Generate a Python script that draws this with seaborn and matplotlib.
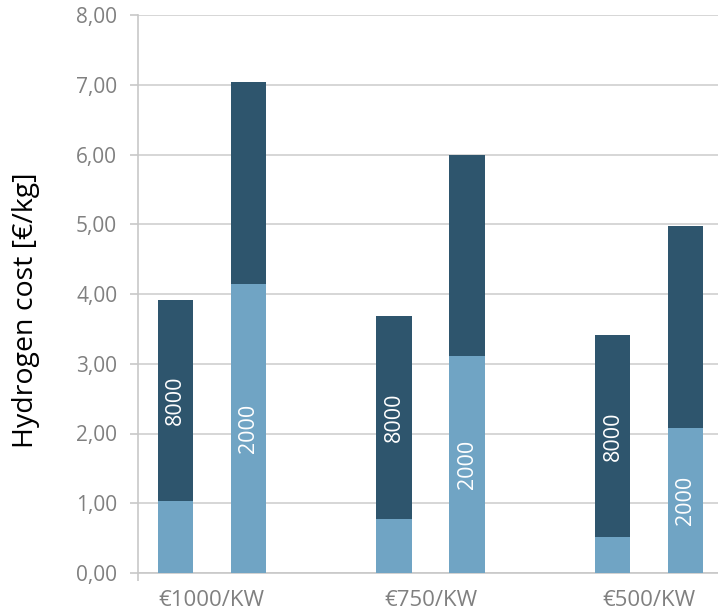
import matplotlib
matplotlib.use("Agg")
import matplotlib.pyplot as plt
import seaborn as sns
import pandas as pd

# valori (€/kg)
groups = ["€1000/KW", "€750/KW", "€500/KW"]
hours = ["8000", "2000"]
totals_8000 = [3.92, 3.68, 3.41]
totals_2000 = [7.04, 6.00, 4.97]
base_8000 = [1.03, 0.78, 0.52]
base_2000 = [4.14, 3.11, 2.08]
yticks = [0, 1, 2, 3, 4, 5, 6, 7, 8]

dark = "#2e556d"
light = "#70a4c4"
grey = "#808080"

df = pd.DataFrame({
    "group": groups * 2,
    "hours": ["8000"] * 3 + ["2000"] * 3,
    "total": totals_8000 + totals_2000,
    "base": base_8000 + base_2000,
})

sns.set_theme(style="white")
plt.rcParams["font.family"] = ["Open Sans", "DejaVu Sans"]

fig = plt.figure(figsize=(7.18, 6.16), dpi=100)
ax = fig.add_axes([138 / 718, 43 / 616, (723 - 138) / 718, (573 - 15) / 616])

sns.barplot(data=df, x="group", y="total", hue="hours", hue_order=hours,
            palette=[dark, dark], width=0.667, gap=0.52, legend=False,
            saturation=1, linewidth=0, ax=ax, zorder=2)
sns.barplot(data=df, x="group", y="base", hue="hours", hue_order=hours,
            palette=[light, light], width=0.667, gap=0.52, legend=False,
            saturation=1, linewidth=0, ax=ax, zorder=3)

# etichette bianche: 8000 nella parte scura, 2000 nella parte chiara
n = len(df)
tot_patches = ax.patches[:n]
base_patches = ax.patches[n:]
for tp, bp, h in zip(tot_patches, base_patches, df["hours"]):
    xc = tp.get_x() + tp.get_width() / 2
    if h == "8000":
        yc = (bp.get_height() + tp.get_height()) / 2
    else:
        yc = bp.get_height() / 2
    ax.text(xc, yc, h, rotation=90, color="white", ha="center", va="center",
            fontsize=15.5, zorder=4)

ax.set_xlim(-0.336, 2.336)
ax.set_ylim(0, 8)
ax.set_yticks(yticks)
ax.set_yticklabels([f"{v:.2f}".replace(".", ",") for v in yticks])
ax.yaxis.grid(True, color="#d0d0d0", linewidth=1.2, zorder=0)
ax.set_axisbelow(True)

for s in ["top", "right"]:
    ax.spines[s].set_visible(False)
for s in ["left", "bottom"]:
    ax.spines[s].set_color("#c8c8c8")
    ax.spines[s].set_linewidth(1.2)

ax.tick_params(axis="y", length=6, color="#c8c8c8", width=1.2, pad=9,
               labelsize=15, labelcolor=grey, left=True)
ax.tick_params(axis="x", length=0, pad=12, labelsize=16, labelcolor=grey)
ax.set_xticks([-0.336], minor=True)
ax.tick_params(axis="x", which="minor", length=6, color="#c8c8c8", width=1.2,
               bottom=True)

ax.set_xlabel("")
ax.set_ylabel("Hydrogen cost [€/kg]", fontsize=20.5, color="black")
ax.yaxis.set_label_coords(-0.1675, 0.47)

fig.savefig("out.png", dpi=100)
